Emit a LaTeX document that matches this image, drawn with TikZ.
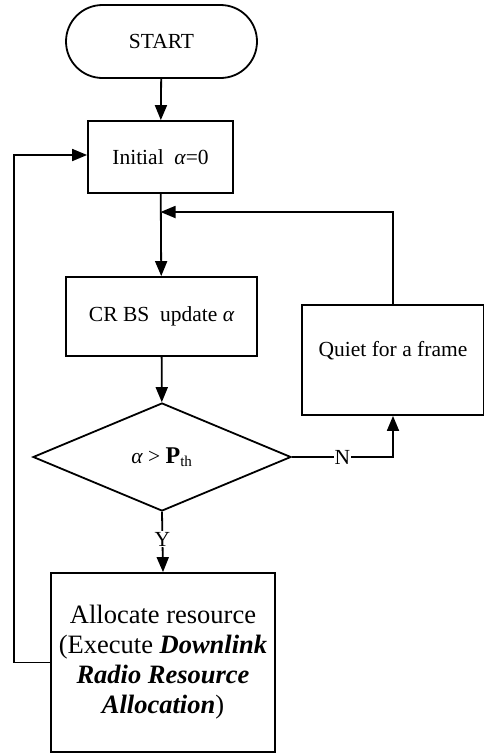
\documentclass[tikz,border=0pt]{standalone}
\usepackage{fontspec}
\setmainfont{Liberation Serif}
\usetikzlibrary{arrows.meta,shapes.geometric,shapes.misc}
\begin{document}
\begin{tikzpicture}[x=1pt,y=-1pt,
  every node/.style={font=\fontsize{21.5}{25}\selectfont},
  line width=1.8pt,
  >={Triangle[length=15pt,width=12pt]},
  box/.style={draw,rectangle,inner sep=0pt},
  term/.style={draw,rounded rectangle,inner sep=0pt},
  dec/.style={draw,diamond,inner sep=0pt},
  lab/.style={fill=white,inner sep=1pt}]
\useasboundingbox (0,0) rectangle (483,753);
\node[term,minimum width=191pt,minimum height=73pt] (start) at (161.5,41.5) {START};
\node[box,minimum width=145pt,minimum height=72pt] (init) at (160.5,157) {Initial\ \ {\itshape α}=0};
\node[box,minimum width=191pt,minimum height=79pt] (cr) at (161.5,316.5) {CR BS\ \ update {\itshape α}};
\node[dec,minimum width=258pt,minimum height=108pt] (dia) at (162,457) {{\itshape α}\ >\ {\fontsize{24}{28}\selectfont\textbf{P}}\textsubscript{th}};
\node[box,minimum width=182pt,minimum height=110pt] (quiet) at (393,360) {};
\node (quiettext) at (393,351) {Quiet for a frame};
\node[box,minimum width=224pt,minimum height=179pt,align=center,font=\fontsize{26.5}{30}\selectfont] (alloc) at (163,662.5)
  {Allocate resource\\(Execute \textbf{\textit{Downlink}}\\\textbf{\textit{Radio Resource}}\\\textbf{\textit{Allocation}})};
\coordinate (merge) at (init.south |- 0,212);
\coordinate (lx) at (14,0);
\draw[->] (start) -- (init);
\draw[->] (init) -- (cr);
\draw[->] (quiet.north) |- (merge);
\draw[->] (cr) -- (dia);
\draw[->] (dia.east) -- node[lab,pos=0.5] (nlab) {N} (dia.east -| quiet.south) -- (quiet.south);
\draw[->] (dia.south) -- node[lab,pos=0.45] (ylab) {Y} (alloc.north);
\draw[->] (alloc.west) -- (alloc.west -| lx) |- ([yshift=2pt]init.west);
\end{tikzpicture}
\end{document}
